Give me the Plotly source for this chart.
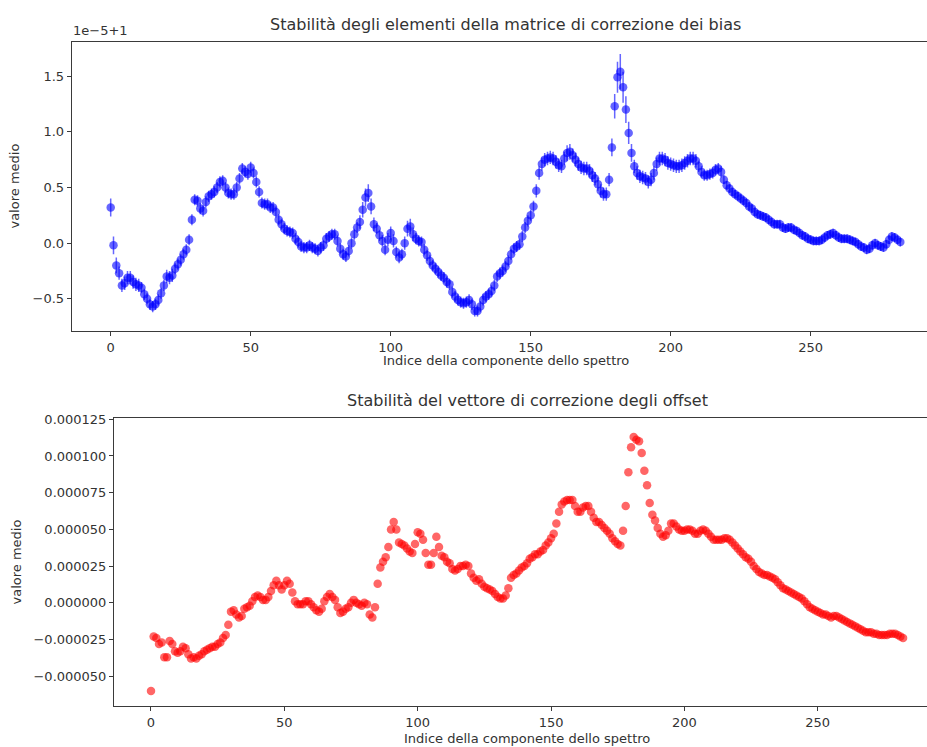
import plotly.graph_objects as go

# Spectral component index
index = list(range(283))

# Mean of the bias-correction matrix elements, as offset from 1 in units of 1e-5
bias_offset = [
    0.32, -0.02, -0.20, -0.27, -0.38, -0.36, -0.31, -0.31, -0.35, -0.37,
    -0.38, -0.40, -0.46, -0.50, -0.55, -0.57, -0.55, -0.51, -0.45, -0.38,
    -0.30, -0.31, -0.29, -0.23, -0.19, -0.15, -0.10, -0.06, 0.03, 0.21,
    0.39, 0.38, 0.31, 0.29, 0.37, 0.42, 0.44, 0.46, 0.50, 0.55,
    0.56, 0.50, 0.45, 0.44, 0.44, 0.50, 0.58, 0.67, 0.64, 0.62,
    0.68, 0.63, 0.55, 0.46, 0.36, 0.35, 0.35, 0.32, 0.32, 0.28,
    0.21, 0.17, 0.13, 0.11, 0.10, 0.09, 0.04, 0.01, -0.03, -0.04,
    -0.04, -0.02, -0.04, -0.05, -0.07, -0.04, -0.02, 0.04, 0.06, 0.08,
    0.08, 0.02, -0.05, -0.10, -0.12, -0.07, 0.00, 0.08, 0.14, 0.19,
    0.30, 0.41, 0.45, 0.33, 0.17, 0.13, 0.07, 0.02, -0.06, 0.03,
    0.09, 0.02, -0.08, -0.13, -0.10, 0.00, 0.13, 0.15, 0.08, 0.04,
    0.02, 0.01, -0.06, -0.11, -0.16, -0.20, -0.23, -0.26, -0.29, -0.31,
    -0.35, -0.37, -0.44, -0.48, -0.51, -0.53, -0.54, -0.53, -0.51, -0.55,
    -0.61, -0.61, -0.57, -0.51, -0.48, -0.46, -0.43, -0.38, -0.30, -0.27,
    -0.25, -0.21, -0.16, -0.10, -0.05, -0.03, -0.01, 0.06, 0.14, 0.20,
    0.25, 0.33, 0.47, 0.63, 0.71, 0.75, 0.76, 0.77, 0.76, 0.73,
    0.70, 0.69, 0.76, 0.81, 0.82, 0.79, 0.75, 0.71, 0.68, 0.67,
    0.67, 0.65, 0.61, 0.58, 0.53, 0.47, 0.44, 0.44, 0.57, 0.86,
    1.23, 1.49, 1.54, 1.40, 1.20, 0.99, 0.81, 0.69, 0.63, 0.60,
    0.59, 0.58, 0.55, 0.57, 0.63, 0.71, 0.76, 0.76, 0.75, 0.72,
    0.71, 0.70, 0.69, 0.69, 0.70, 0.72, 0.74, 0.76, 0.76, 0.74,
    0.69, 0.64, 0.61, 0.61, 0.62, 0.63, 0.66, 0.67, 0.64, 0.57,
    0.52, 0.49, 0.46, 0.44, 0.42, 0.40, 0.38, 0.36, 0.33, 0.31,
    0.28, 0.26, 0.25, 0.24, 0.23, 0.21, 0.19, 0.17, 0.17, 0.17,
    0.14, 0.13, 0.14, 0.14, 0.12, 0.11, 0.09, 0.07, 0.06, 0.04,
    0.03, 0.02, 0.02, 0.02, 0.03, 0.05, 0.07, 0.08, 0.09, 0.07,
    0.05, 0.04, 0.04, 0.04, 0.03, 0.02, 0.01, -0.01, -0.03, -0.04,
    -0.06, -0.05, -0.02, 0.00, -0.02, -0.03, -0.04, -0.01, 0.03, 0.06,
    0.05, 0.03, 0.01,
]

# Standard deviation of the bias-correction elements, units of 1e-5
bias_err = [
    0.08, 0.08, 0.07, 0.06, 0.06, 0.06, 0.06, 0.06, 0.06, 0.06,
    0.06, 0.05, 0.05, 0.05, 0.05, 0.05, 0.05, 0.05, 0.05, 0.05,
    0.06, 0.06, 0.06, 0.05, 0.05, 0.05, 0.05, 0.05, 0.05, 0.05,
    0.05, 0.05, 0.05, 0.05, 0.05, 0.05, 0.05, 0.05, 0.05, 0.05,
    0.05, 0.05, 0.05, 0.05, 0.05, 0.05, 0.05, 0.05, 0.05, 0.05,
    0.05, 0.05, 0.05, 0.05, 0.05, 0.05, 0.05, 0.05, 0.05, 0.05,
    0.05, 0.05, 0.05, 0.05, 0.05, 0.05, 0.05, 0.05, 0.05, 0.05,
    0.05, 0.05, 0.05, 0.05, 0.05, 0.05, 0.05, 0.05, 0.05, 0.05,
    0.05, 0.05, 0.05, 0.05, 0.05, 0.05, 0.05, 0.05, 0.05, 0.06,
    0.07, 0.08, 0.08, 0.07, 0.06, 0.05, 0.05, 0.05, 0.05, 0.06,
    0.06, 0.06, 0.05, 0.05, 0.05, 0.06, 0.07, 0.07, 0.06, 0.05,
    0.05, 0.05, 0.05, 0.05, 0.05, 0.05, 0.05, 0.05, 0.05, 0.05,
    0.05, 0.05, 0.05, 0.05, 0.05, 0.05, 0.05, 0.05, 0.05, 0.05,
    0.05, 0.05, 0.05, 0.05, 0.05, 0.05, 0.05, 0.05, 0.05, 0.05,
    0.05, 0.05, 0.05, 0.05, 0.05, 0.05, 0.05, 0.05, 0.05, 0.05,
    0.05, 0.05, 0.06, 0.06, 0.06, 0.06, 0.06, 0.06, 0.06, 0.06,
    0.06, 0.06, 0.06, 0.07, 0.07, 0.06, 0.06, 0.06, 0.06, 0.06,
    0.06, 0.06, 0.06, 0.06, 0.06, 0.06, 0.06, 0.06, 0.06, 0.08,
    0.11, 0.14, 0.16, 0.14, 0.12, 0.10, 0.08, 0.06, 0.06, 0.06,
    0.06, 0.06, 0.06, 0.06, 0.06, 0.06, 0.06, 0.06, 0.06, 0.06,
    0.06, 0.06, 0.06, 0.06, 0.06, 0.06, 0.06, 0.06, 0.06, 0.06,
    0.05, 0.05, 0.05, 0.05, 0.05, 0.05, 0.05, 0.05, 0.05, 0.04,
    0.04, 0.04, 0.04, 0.04, 0.04, 0.04, 0.04, 0.04, 0.04, 0.04,
    0.04, 0.04, 0.04, 0.04, 0.04, 0.04, 0.04, 0.04, 0.04, 0.04,
    0.04, 0.04, 0.04, 0.04, 0.04, 0.04, 0.04, 0.04, 0.04, 0.04,
    0.04, 0.04, 0.04, 0.04, 0.04, 0.04, 0.04, 0.04, 0.04, 0.04,
    0.04, 0.04, 0.04, 0.04, 0.04, 0.04, 0.04, 0.04, 0.04, 0.04,
    0.04, 0.04, 0.04, 0.04, 0.04, 0.04, 0.04, 0.04, 0.04, 0.04,
    0.04, 0.04, 0.04,
]

# Mean of the offset-correction vector, units of 1e-6
offset_mean = [
    -60, -23, -24, -28, -27, -37, -37, -26, -28, -33,
    -34, -33, -30, -31, -35, -38, -37, -38, -36, -35,
    -33, -32, -31, -30, -30, -28, -27, -24, -22, -15,
    -6, -5, -8, -10, -9, -4, -3, -2, 1, 4,
    5, 4, 2, 2, 4, 8, 12, 15, 12, 9,
    12, 15, 13, 7, 1, -1, -1, -1, 1, 1,
    -1, -3, -5, -6, -4, 1, 4, 6, 4, 2,
    -3, -7, -6, -4, -3, 0, 2, 0, -1, -2,
    0, -1, -8, -10, -3, 13, 24, 28, 31, 38,
    50, 55, 50, 41, 40, 39, 37, 35, 34, 40,
    48, 47, 43, 34, 26, 26, 34, 45, 38, 32,
    31, 28, 27, 23, 22, 23, 25, 25, 26, 25,
    20, 17, 15, 16, 13, 11, 10, 9, 8, 6,
    4, 3, 3, 5, 10, 17, 19, 20, 22, 24,
    25, 27, 30, 31, 33, 33, 35, 36, 39, 41,
    44, 47, 54, 62, 67, 69, 70, 70, 70, 66,
    62, 62, 65, 66, 66, 62, 58, 55, 55, 53,
    51, 49, 47, 44, 42, 40, 39, 49, 66, 89,
    106, 113, 111, 110, 102, 90, 80, 68, 60, 56,
    51, 47, 45, 46, 49, 54, 54, 52, 50, 49,
    49, 50, 50, 49, 47, 47, 49, 50, 49, 47,
    45, 43, 43, 43, 43, 44, 44, 43, 41, 39,
    37, 35, 33, 31, 30, 28, 25, 23, 21, 20,
    19, 19, 18, 17, 16, 14, 12, 10, 9, 8,
    7, 6, 5, 4, 3, 1, -1, -3, -4, -5,
    -6, -7, -8, -8, -9, -10, -9, -9, -10, -11,
    -12, -13, -14, -15, -16, -17, -18, -19, -20, -20,
    -20, -21, -21, -22, -22, -22, -22, -21, -21, -21,
    -22, -23, -24,
]

# Tick labels
x_ticks = [0, 50, 100, 150, 200, 250]
bias_ticks = [-0.5, 0.0, 0.5, 1.0, 1.5]
bias_tick_text = ["\u22120.5", "0.0", "0.5", "1.0", "1.5"]
offset_ticks = [-50, -25, 0, 25, 50, 75, 100, 125]
offset_tick_text = ["\u22120.000050", "\u22120.000025", "0.000000", "0.000025",
                    "0.000050", "0.000075", "0.000100", "0.000125"]

W, H = 927, 747
FONT = "DejaVu Sans"
TXT = "#333333"
AX = "#3a3a3a"


def px(x):
    return x / W


def py(y):
    return 1 - y / H


bias_vals = [1 + v * 1e-5 for v in bias_offset]
bias_errs = [e * 1e-5 for e in bias_err]
offset_vals = [v * 1e-6 for v in offset_mean]

fig = go.Figure()
fig.add_trace(go.Scatter(
    x=index, y=bias_vals, mode="markers",
    marker=dict(size=8.5, color="rgba(0,0,255,0.6)", line=dict(width=0)),
    error_y=dict(type="data", array=bias_errs, color="rgba(0,0,255,0.6)",
                 thickness=1.5, width=0),
    xaxis="x", yaxis="y", showlegend=False, hoverinfo="skip",
))
fig.add_trace(go.Scatter(
    x=index, y=offset_vals, mode="markers",
    marker=dict(size=8.5, color="rgba(255,0,0,0.6)", line=dict(width=0)),
    xaxis="x2", yaxis="y2", showlegend=False, hoverinfo="skip",
))

axis_common = dict(
    showgrid=False, zeroline=False, showline=True, linecolor=AX, linewidth=1,
    ticks="outside", ticklen=4, tickwidth=1, tickcolor=AX,
    tickfont=dict(family=FONT, size=13, color=TXT),
)

fig.update_layout(
    width=W, height=H,
    margin=dict(l=0, r=0, t=0, b=0),
    paper_bgcolor="white", plot_bgcolor="white",
    xaxis=dict(domain=[px(71.7), 1], range=[-13.93, 291.54], anchor="y",
               tickvals=x_ticks, mirror=True, **axis_common),
    yaxis=dict(domain=[py(327.7), py(36.7)], range=[1 - 0.79e-5, 1 + 1.803e-5],
               anchor="x", tickvals=[1 + t * 1e-5 for t in bias_ticks],
               ticktext=bias_tick_text, **axis_common),
    xaxis2=dict(domain=[px(114), 1], range=[-13.87, 290.97], anchor="y2",
                tickvals=x_ticks, mirror=True, **axis_common),
    yaxis2=dict(domain=[py(706), py(415)], range=[-70.5e-6, 126.1e-6],
                anchor="x2", tickvals=[t * 1e-6 for t in offset_ticks],
                ticktext=offset_tick_text, **axis_common),
)


def label(text, x, y, size=13, angle=0, xanchor="center"):
    fig.add_annotation(
        text=text, x=px(x), y=py(y), xref="paper", yref="paper",
        xanchor=xanchor, yanchor="middle", showarrow=False, textangle=angle,
        font=dict(family=FONT, size=size, color=TXT),
    )


label("Stabilità degli elementi della matrice di correzione dei bias", 505.8, 19, size=16)
label("1e\u22125+1", 71.0, 25, xanchor="left")
label("valore medio", 15, 182, angle=-90)
label("Indice della componente dello spettro", 505.8, 357)
label("Stabilità del vettore di correzione degli offset", 527, 398, size=16)
label("Indice della componente dello spettro", 527, 738)
label("valore medio", 16.5, 560.5, angle=-90)

fig.write_html("out.html")
